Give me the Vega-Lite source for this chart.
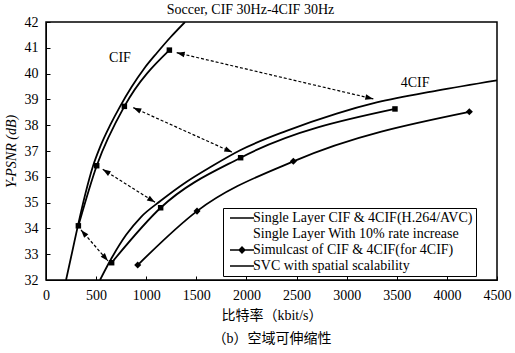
{
  "$schema": "https://vega.github.io/schema/vega-lite/v6.json",
  "width": 451,
  "height": 258,
  "autosize": {"type": "none"},
  "padding": {"left": 46, "top": 22, "right": 18, "bottom": 73},
  "background": "white",
  "title": {"text": "Soccer, CIF 30Hz-4CIF 30Hz", "font": "Liberation Serif", "fontSize": 14, "fontWeight": "normal", "color": "black", "offset": -2, "dx": -21},
  "config": {
    "view": {"stroke": "black", "strokeWidth": 1.5},
    "axis": {"labelFont": "Liberation Serif", "labelFontSize": 14, "labelColor": "black", "labelOverlap": false, "titleFont": "Liberation Serif, Noto Sans CJK SC", "titleFontSize": 14, "titleFontWeight": "normal", "titleColor": "black", "domainColor": "black", "tickColor": "black", "grid": false, "tickSize": -4},
    "legend": {"orient": "none", "legendX": 177, "legendY": 186, "strokeColor": "black", "fillColor": "white", "padding": 3, "labelFont": "Liberation Serif", "labelFontSize": 14, "labelColor": "black", "labelLimit": 400, "symbolSize": 36, "labelOffset": 13, "rowPadding": 2}
  },
  "datasets": {
    "lines": [
      {"curve": "cif_single", "rate": 200, "psnr": 32.0, "marker": ""},
      {"curve": "cif_single", "rate": 262, "psnr": 33.1, "marker": ""},
      {"curve": "cif_single", "rate": 318, "psnr": 34.1, "marker": ""},
      {"curve": "cif_single", "rate": 390, "psnr": 35.3, "marker": ""},
      {"curve": "cif_single", "rate": 470, "psnr": 36.43, "marker": ""},
      {"curve": "cif_single", "rate": 539, "psnr": 37.15, "marker": ""},
      {"curve": "cif_single", "rate": 640, "psnr": 38.0, "marker": ""},
      {"curve": "cif_single", "rate": 738, "psnr": 38.72, "marker": ""},
      {"curve": "cif_single", "rate": 855, "psnr": 39.49, "marker": ""},
      {"curve": "cif_single", "rate": 980, "psnr": 40.2, "marker": ""},
      {"curve": "cif_single", "rate": 1104, "psnr": 40.79, "marker": ""},
      {"curve": "cif_single", "rate": 1240, "psnr": 41.4, "marker": ""},
      {"curve": "cif_single", "rate": 1387, "psnr": 42.0, "marker": ""},
      {"curve": "cif_svc", "rate": 323, "psnr": 34.1, "marker": "square"},
      {"curve": "cif_svc", "rate": 506, "psnr": 36.43, "marker": "square"},
      {"curve": "cif_svc", "rate": 782, "psnr": 38.73, "marker": "square"},
      {"curve": "cif_svc", "rate": 1231, "psnr": 40.91, "marker": "square"},
      {"curve": "4cif_single", "rate": 539, "psnr": 32.0, "marker": ""},
      {"curve": "4cif_single", "rate": 655, "psnr": 32.85, "marker": ""},
      {"curve": "4cif_single", "rate": 800, "psnr": 33.75, "marker": ""},
      {"curve": "4cif_single", "rate": 950, "psnr": 34.45, "marker": ""},
      {"curve": "4cif_single", "rate": 1144, "psnr": 35.07, "marker": ""},
      {"curve": "4cif_single", "rate": 1400, "psnr": 35.8, "marker": ""},
      {"curve": "4cif_single", "rate": 1650, "psnr": 36.4, "marker": ""},
      {"curve": "4cif_single", "rate": 1942, "psnr": 37.04, "marker": ""},
      {"curve": "4cif_single", "rate": 2400, "psnr": 37.78, "marker": ""},
      {"curve": "4cif_single", "rate": 2900, "psnr": 38.45, "marker": ""},
      {"curve": "4cif_single", "rate": 3300, "psnr": 38.88, "marker": ""},
      {"curve": "4cif_single", "rate": 3900, "psnr": 39.34, "marker": ""},
      {"curve": "4cif_single", "rate": 4500, "psnr": 39.74, "marker": ""},
      {"curve": "4cif_svc", "rate": 655, "psnr": 32.67, "marker": "square"},
      {"curve": "4cif_svc", "rate": 1144, "psnr": 34.8, "marker": "square"},
      {"curve": "4cif_svc", "rate": 1942, "psnr": 36.74, "marker": "square"},
      {"curve": "4cif_svc", "rate": 3482, "psnr": 38.63, "marker": "square"},
      {"curve": "simulcast", "rate": 915, "psnr": 32.58, "marker": "diamond"},
      {"curve": "simulcast", "rate": 1507, "psnr": 34.67, "marker": "diamond"},
      {"curve": "simulcast", "rate": 2468, "psnr": 36.6, "marker": "diamond"},
      {"curve": "simulcast", "rate": 4224, "psnr": 38.52, "marker": "diamond"}
    ],
    "arrows": [
      {"arrow": 1, "x1": 1304, "y1": 40.81, "x2": 3266, "y2": 39.02},
      {"arrow": 2, "x1": 871, "y1": 38.68, "x2": 1859, "y2": 36.95},
      {"arrow": 3, "x1": 566, "y1": 36.29, "x2": 1088, "y2": 35.01},
      {"arrow": 4, "x1": 349, "y1": 33.94, "x2": 619, "y2": 32.74}
    ],
    "labels": [
      {"text": "CIF", "rate": 738, "psnr": 40.59},
      {"text": "4CIF", "rate": 3682, "psnr": 39.65}
    ],
    "legend": [
      {"series": "Single Layer CIF & 4CIF(H.264/AVC)"},
      {"series": "Single Layer With 10% rate increase"},
      {"series": "Simulcast of CIF & 4CIF(for 4CIF)"},
      {"series": "SVC with spatial scalability"}
    ]
  },
  "layer": [
    {
      "data": {"name": "lines"},
      "mark": {"type": "line", "interpolate": "monotone", "color": "black", "strokeWidth": 1.8, "clip": true},
      "encoding": {
        "x": {"field": "rate", "type": "quantitative", "scale": {"domain": [0, 4500], "nice": false}, "axis": {"values": [0, 500, 1000, 1500, 2000, 2500, 3000, 3500, 4000, 4500], "format": "d", "labelFlush": false, "labelPadding": 12, "title": ["比特率（kbit/s）", "（b）空域可伸缩性"], "titleLineHeight": 23, "titlePadding": 6}},
        "y": {"field": "psnr", "type": "quantitative", "scale": {"domain": [32, 42], "nice": false, "zero": false}, "axis": {"values": [32, 33, 34, 35, 36, 37, 38, 39, 40, 41, 42], "tickCount": 11, "labelOverlap": false, "labelFlush": false, "labelPadding": 12, "title": "Y-PSNR (dB)", "titleFontStyle": "italic", "titlePadding": 6}},
        "detail": {"field": "curve"}
      }
    },
    {
      "data": {"name": "arrows"},
      "mark": {"type": "rule", "color": "black", "strokeWidth": 1.2, "strokeDash": [3, 2]},
      "encoding": {
        "x": {"field": "x1", "type": "quantitative"},
        "y": {"field": "y1", "type": "quantitative"},
        "x2": {"field": "x2"},
        "y2": {"field": "y2"}
      }
    },
    {
      "data": {"name": "arrows"},
      "transform": [{"calculate": "atan2((datum.x2 - datum.x1) * 0.10022, (datum.y2 - datum.y1) * 25.8) * 180 / PI", "as": "ang"}],
      "mark": {"type": "point", "shape": "M0,0L-0.7,2L0.7,2Z", "size": 64, "filled": true, "color": "black", "opacity": 1},
      "encoding": {
        "x": {"field": "x2", "type": "quantitative"},
        "y": {"field": "y2", "type": "quantitative"},
        "angle": {"field": "ang", "type": "quantitative", "scale": null}
      }
    },
    {
      "data": {"name": "arrows"},
      "transform": [{"calculate": "atan2((datum.x1 - datum.x2) * 0.10022, (datum.y1 - datum.y2) * 25.8) * 180 / PI", "as": "ang"}],
      "mark": {"type": "point", "shape": "M0,0L-0.7,2L0.7,2Z", "size": 64, "filled": true, "color": "black", "opacity": 1},
      "encoding": {
        "x": {"field": "x1", "type": "quantitative"},
        "y": {"field": "y1", "type": "quantitative"},
        "angle": {"field": "ang", "type": "quantitative", "scale": null}
      }
    },
    {
      "data": {"name": "lines"},
      "transform": [{"filter": "datum.marker != ''"}],
      "mark": {"type": "point", "filled": true, "color": "black", "opacity": 1},
      "encoding": {
        "x": {"field": "rate", "type": "quantitative"},
        "y": {"field": "psnr", "type": "quantitative"},
        "shape": {"field": "marker", "type": "nominal", "scale": null},
        "size": {"condition": {"test": "datum.marker == 'square'", "value": 30}, "value": 50}
      }
    },
    {
      "data": {"name": "labels"},
      "mark": {"type": "text", "font": "Liberation Serif", "fontSize": 14, "color": "black", "align": "center", "baseline": "middle"},
      "encoding": {
        "x": {"field": "rate", "type": "quantitative"},
        "y": {"field": "psnr", "type": "quantitative"},
        "text": {"field": "text"}
      }
    },
    {
      "data": {"name": "legend"},
      "mark": {"type": "point", "filled": true, "color": "black", "opacity": 1},
      "encoding": {
        "x": {"field": "rate", "type": "quantitative"},
        "y": {"field": "psnr", "type": "quantitative"},
        "shape": {
          "field": "series", "type": "nominal",
          "scale": {"domain": ["Single Layer CIF & 4CIF(H.264/AVC)", "Single Layer With 10% rate increase", "Simulcast of CIF & 4CIF(for 4CIF)", "SVC with spatial scalability"],
                    "range": ["M-1,-0.25L7,-0.25L7,0.25L-1,0.25Z", "M3,0Z", "M-1,-0.25L7,-0.25L7,0.25L-1,0.25ZM3,-1.3L4.3,0L3,1.3L1.7,0Z", "M-1,-0.25L7,-0.25L7,0.25L-1,0.25Z"]},
          "legend": {"title": null}
        }
      }
    }
  ],
  "resolve": {"scale": {"shape": "independent"}}
}
